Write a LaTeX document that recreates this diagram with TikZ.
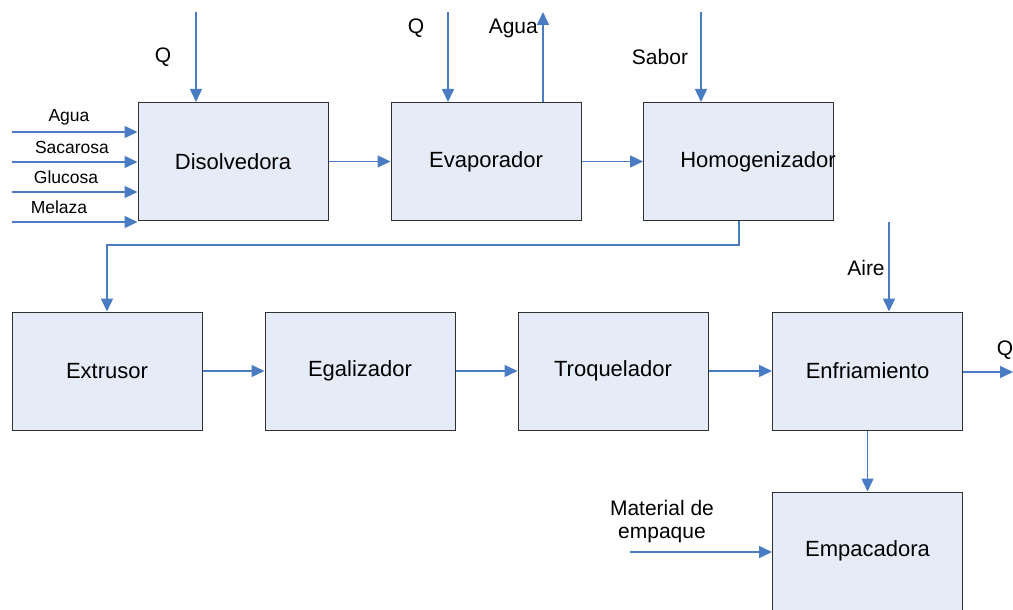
\documentclass[tikz,border=0pt]{standalone}
\usepackage{fontspec}
\setmainfont{Liberation Sans}
\usetikzlibrary{arrows.meta}
\definecolor{boxfill}{HTML}{E6ECF7}
\definecolor{arrowblue}{HTML}{4A7CC4}
\definecolor{boxline}{HTML}{303030}
\tikzset{
  proc/.style={draw=boxline, line width=1pt, fill=boxfill, minimum width=190pt, minimum height=118pt, inner sep=0pt, font=\fontsize{22}{24}\selectfont},
  flow/.style={draw=arrowblue, line width=1.5pt, -{Triangle[length=13pt,width=12pt]}},
  lbl/.style={font=\fontsize{21}{23}\selectfont, inner sep=0pt},
  slbl/.style={font=\fontsize{17.5}{19}\selectfont, inner sep=0pt}
}
\begin{document}
\begin{tikzpicture}[x=1pt,y=-1pt]
\clip (0,0) rectangle (1013,610);
\fill[white] (0,0) rectangle (1013,610);
% process boxes
\node[proc] (dis) at (233,161.5) {Disolvedora};
\node[proc] (eva) at (486,161.5) {Evaporador};
\node[proc] (hom) at (738.5,161.5) {};
\node[font=\fontsize{22}{24}\selectfont, inner sep=0pt] (homt) at (758,162) {Homogenizador};
\node[proc] (ext) at (107,371) {Extrusor};
\node[proc] (ega) at (360,371) {Egalizador};
\node[proc] (tro) at (613,371) {Troquelador};
\node[proc] (enf) at (867.5,371) {Enfriamiento};
\node[proc] (emp) at (867.5,551) {Empacadora};
% free ends
\coordinate (qd) at (196,12);
\coordinate (qe) at (448,12);
\coordinate (ag) at (543,12);
\coordinate (sa) at (701,12);
\coordinate (ai) at (889,222);
\coordinate (qo) at (1013,372);
\coordinate (me) at (630,552);
\coordinate (i1) at (12,132);
\coordinate (i2) at (12,162);
\coordinate (i3) at (12,192);
\coordinate (i4) at (12,222);
% top inputs
\draw[flow] (qd) -- (qd |- dis.north);
\node[lbl] (lq1) at (163,57) {Q};
\draw[flow] (qe) -- (qe |- eva.north);
\node[lbl] (lq2) at (416,28) {Q};
\draw[flow] (ag |- eva.north) -- (ag);
\node[lbl, anchor=east] (lag) at (538,28) {Agua};
\draw[flow] (sa) -- (sa |- hom.north);
\node[lbl] (lsa) at (660,57) {Sabor};
% left inputs
\draw[flow] (i1) -- (i1 -| dis.west);
\draw[flow] (i2) -- (i2 -| dis.west);
\draw[flow] (i3) -- (i3 -| dis.west);
\draw[flow] (i4) -- (i4 -| dis.west);
\node[slbl] (l1) at (69,117) {Agua};
\node[slbl] (l2) at (72,147) {Sacarosa};
\node[slbl] (l3) at (66,177) {Glucosa};
\node[slbl] (l4) at (59,207) {Melaza};
% main flow
\draw[flow] (dis.east) -- (eva.west);
\draw[flow] (eva.east) -- (hom.west);
\draw[flow] (739,221) -- (739,245) -- (107,245) -- (ext.north);
\draw[flow] (ext.east) -- (ega.west);
\draw[flow] (ega.east) -- (tro.west);
\draw[flow] (tro.east) -- (enf.west);
\draw[flow] (ai) -- (ai |- enf.north);
\node[lbl] (lai) at (866,268) {Aire};
\draw[flow] (enf.east |- qo) -- (qo);
\node[lbl] (lqo) at (1005,350) {Q};
\draw[flow] (enf.south) -- (emp.north);
\draw[flow] (me) -- (me -| emp.west);
\node[lbl, align=center] (lme) at (662,522) {Material de\\empaque};
\end{tikzpicture}
\end{document}
